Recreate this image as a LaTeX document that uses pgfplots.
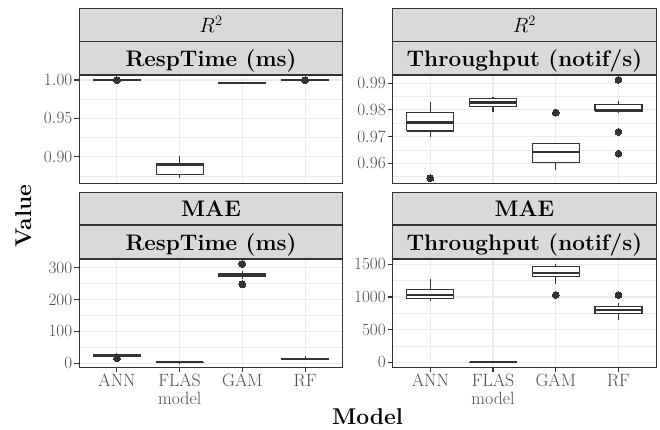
\documentclass[border=0pt]{standalone}
\usepackage{pgfplots}
\pgfplotsset{compat=1.18}

\definecolor{grey20}{HTML}{333333}
\definecolor{grey30}{HTML}{4D4D4D}
\definecolor{grey85}{HTML}{D9D9D9}
\definecolor{grey92}{HTML}{EBEBEB}

\newcommand{\ticksize}{\fontsize{17.8bp}{18bp}\selectfont}
\newcommand{\stripsize}{\fontsize{22.5bp}{24bp}\selectfont}
\newcommand{\titlesize}{\fontsize{22.8bp}{26bp}\selectfont}
\newcommand{\twoline}[2]{\begin{tabular}[t]{@{}c@{}}#1\\#2\end{tabular}}

\pgfplotsset{
  panel/.style={
    scale only axis, width=263.4bp, height=108.3bp,
    anchor=north west,
    xmin=0.4, xmax=4.6, xtick={1,2,3,4},
    axis line style={grey20, line width=1.1bp},
    grid=both,
    major grid style={grey92, line width=1.1bp},
    minor grid style={grey92, line width=0.55bp},
    tick pos=left,
    tick align=outside, major tick length=5bp, minor tick length=0pt,
    tick style={grey20, line width=1.1bp},
    tick label style={font=\ticksize, text=grey30, inner sep=1.8bp},
    xticklabel style={text height=12.2bp},
  },
  noxlabels/.style={xticklabels={}, xtick style={draw=none}},
  xlabels/.style={xticklabels={ANN, \twoline{FLAS}{model}, GAM, RF}},
  boxline/.style={draw=grey20, line width=1.1bp, line join=miter},
}

% One box: position, lower whisker, lower quartile, median, upper quartile, upper whisker
\newcommand{\bxp}[6]{%
  \addplot[boxline] table[row sep=\\, x expr={#1}, y=y] {y\\#2\\#3\\};
  \addplot[boxline] table[row sep=\\, x expr={#1}, y=y] {y\\#5\\#6\\};
  \addplot[boxline, fill=white] table[row sep=\\, x expr={#1+\thisrow{dx}}, y=y]
    {dx y\\-0.375 #3\\0.375 #3\\0.375 #5\\-0.375 #5\\-0.375 #3\\};
  \addplot[boxline, line width=2.1bp] table[row sep=\\, x expr={#1+\thisrow{dx}}, y=y]
    {dx y\\-0.375 #4\\0.375 #4\\};
}
% Outlying points of one box: position, values
\newcommand{\outl}[2]{%
  \addplot[only marks, mark=*, mark size=3.4bp, mark options={fill=grey20, draw=grey20, line width=0pt}]
    table[row sep=\\, x expr={#1}, y=y] {y\\#2};
}

\begin{document}
\begin{tikzpicture}
\useasboundingbox (0,0) rectangle (660bp,-430bp);

% facet strips
\foreach \x/\xr in {79.3/342.7, 392.7/656.1}{
  \foreach \ya/\yb in {8.3/41.7, 41.7/75, 192.3/225, 225/259}{
    \draw[fill=grey85, draw=grey20, line width=1.1bp]
      (\x bp,-\ya bp) rectangle (\xr bp,-\yb bp);
  }
}
\begin{scope}[every node/.style={anchor=base, font=\stripsize\bfseries}]
\node[font=\stripsize] at (211bp,-32.9bp) {$R^2$};
\node[font=\stripsize] at (524.4bp,-32.9bp) {$R^2$};
\node at (211bp,-66.1bp) {RespTime (ms)};
\node at (524.4bp,-66.1bp) {Throughput (notif/s)};
\node at (211bp,-216.2bp) {MAE};
\node at (524.4bp,-216.2bp) {MAE};
\node at (211bp,-250.1bp) {RespTime (ms)};
\node at (524.4bp,-250.1bp) {Throughput (notif/s)};
\end{scope}

% R^2, response time
\begin{axis}[panel, noxlabels, at={(79.3bp,-75bp)},
  ymin=0.8653, ymax=1.0065,
  ytick={0.90,0.95,1.00}, minor ytick={0.875,0.925,0.975},
  yticklabel style={/pgf/number format/fixed, /pgf/number format/fixed zerofill,
    /pgf/number format/precision=2}]
\bxp{1}{0.9993}{0.9998}{0.9999}{1.0000}{1.0002}
\outl{1}{0.9996\\}
\bxp{2}{0.8717}{0.8770}{0.8888}{0.8914}{0.9012}
\bxp{3}{0.9959}{0.9962}{0.9964}{0.9966}{0.9969}
\bxp{4}{0.9996}{0.9998}{0.9999}{1.0000}{1.0002}
\outl{4}{0.9996\\}
\end{axis}

% R^2, throughput
\begin{axis}[panel, noxlabels, at={(392.7bp,-75bp)},
  ymin=0.9525, ymax=0.9931,
  ytick={0.96,0.97,0.98,0.99}, minor ytick={0.955,0.965,0.975,0.985},
  yticklabel style={/pgf/number format/fixed, /pgf/number format/fixed zerofill,
    /pgf/number format/precision=2}]
\bxp{1}{0.9700}{0.9721}{0.9753}{0.9789}{0.9831}
\outl{1}{0.9544\\}
\bxp{2}{0.9794}{0.9812}{0.9828}{0.9843}{0.9850}
\bxp{3}{0.9575}{0.9604}{0.9641}{0.9675}{0.9675}
\outl{3}{0.9790\\}
\bxp{4}{0.9790}{0.9795}{0.9801}{0.9822}{0.9835}
\outl{4}{0.9913\\0.9718\\0.9636\\}
\end{axis}

% MAE, response time
\begin{axis}[panel, xlabels, at={(79.3bp,-259bp)},
  ymin=-12.5, ymax=327,
  ytick={0,100,200,300}, minor ytick={50,150,250}]
\bxp{1}{20}{23}{26}{28}{33}
\outl{1}{15.5\\}
\bxp{2}{2}{2.5}{3}{3.5}{4}
\bxp{3}{265}{272}{276}{280}{290}
\outl{3}{311.6\\247.5\\}
\bxp{4}{10}{12}{13.5}{15}{22}
\end{axis}

% MAE, throughput
\begin{axis}[panel, xlabels, at={(392.7bp,-259bp)},
  ymin=-76, ymax=1581,
  ytick={0,500,1000,1500}, minor ytick={250,750,1250},
  yticklabel style={/pgf/number format/1000 sep={}}]
\bxp{1}{940}{976}{1037}{1110}{1271}
\bxp{2}{0}{1}{2}{3}{5}
\bxp{3}{1205}{1317}{1362}{1470}{1505}
\outl{3}{1030\\}
\bxp{4}{650}{744}{795}{856}{905}
\outl{4}{1030\\}
\end{axis}

% axis titles
\node[font=\titlesize\bfseries, rotate=90, anchor=base] at (31bp,-216bp) {Value};
\node[font=\titlesize\bfseries, anchor=base] at (367.5bp,-424bp) {Model};
\end{tikzpicture}
\end{document}
